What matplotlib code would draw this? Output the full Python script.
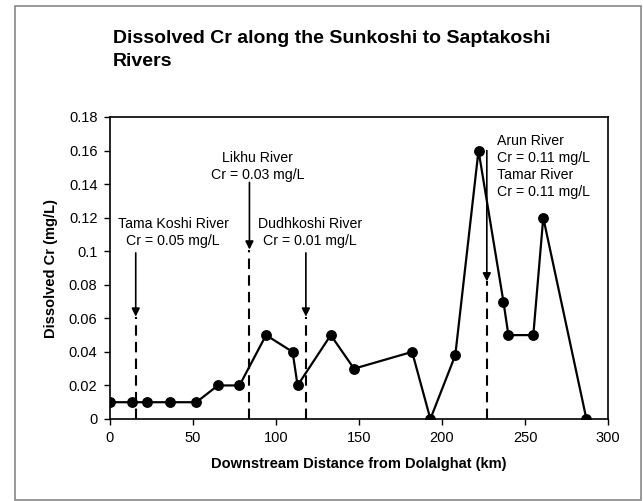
import matplotlib.pyplot as plt
from matplotlib.patches import Rectangle

plt.rcParams['font.family'] = ['Liberation Sans', 'DejaVu Sans']

# sampling points along the river
distance_km = [0, 13, 22, 36, 52, 65, 78, 94, 110, 113, 133, 147,
               182, 193, 208, 222, 237, 240, 255, 261, 287]
cr_mgl = [0.01, 0.01, 0.01, 0.01, 0.01, 0.02, 0.02, 0.05, 0.04, 0.02, 0.05, 0.03,
          0.04, 0.0, 0.038, 0.16, 0.07, 0.05, 0.05, 0.12, 0.0]

# tributary confluences
trib_labels = ['Tama Koshi River\nCr = 0.05 mg/L',
               'Likhu River\nCr = 0.03 mg/L',
               'Dudhkoshi River\nCr = 0.01 mg/L',
               'Arun River\nCr = 0.11 mg/L\nTamar River\nCr = 0.11 mg/L']
trib_km = [15.5, 84, 118, 227]
arrow_top = [0.099, 0.141, 0.099, 0.160]
arrow_tip = [0.061, 0.101, 0.061, 0.082]
label_x = [38, 89, 120.5, 233]
label_y = [0.1205, 0.1597, 0.1205, 0.170]
label_ha = ['center', 'center', 'center', 'left']

fig = plt.figure(figsize=(6.43, 5.01), dpi=100)
fig.patches.append(Rectangle((15 / 643, 1 / 501), 626 / 643, 494 / 501,
                             transform=fig.transFigure, fill=False,
                             edgecolor='#888888', linewidth=1.2))

ax = fig.add_axes([110 / 643, 1 - 419 / 501, 498 / 643, 302 / 501])

ax.plot(distance_km, cr_mgl, color='black', linewidth=1.6,
        marker='o', markersize=6.8, zorder=3)

for name, xk, top, tip, lx, ly, ha in zip(trib_labels, trib_km, arrow_top,
                                          arrow_tip, label_x, label_y, label_ha):
    ax.plot([xk, xk], [0, tip], color='black', linewidth=1.5,
            linestyle=(0, (5, 3)), zorder=2)
    ax.annotate('', xy=(xk, tip), xytext=(xk, top),
                arrowprops=dict(arrowstyle='-|>', color='black', lw=1.2,
                                mutation_scale=12, shrinkA=0, shrinkB=0))
    ax.text(lx, ly, name, ha=ha, va='top', fontsize=10.2, linespacing=1.28)

ax.set_xlim(0, 300)
ax.set_ylim(0, 0.18)
ax.set_xticks(range(0, 301, 50))
ax.set_yticks([0, 0.02, 0.04, 0.06, 0.08, 0.1, 0.12, 0.14, 0.16, 0.18])
ax.set_yticklabels(['0', '0.02', '0.04', '0.06', '0.08', '0.1', '0.12',
                    '0.14', '0.16', '0.18'])
ax.tick_params(direction='out', length=4, width=1, labelsize=10.5, pad=5)
for sp in ax.spines.values():
    sp.set_linewidth(1.2)

ax.set_xlabel('Downstream Distance from Dolalghat (km)', fontsize=10.5,
              fontweight='bold', labelpad=8)
ax.set_ylabel('Dissolved Cr (mg/L)', fontsize=10.5, fontweight='bold',
              labelpad=8)

fig.text(113 / 643, 1 - 30 / 501,
         'Dissolved Cr along the Sunkoshi to Saptakoshi\nRivers',
         ha='left', va='top', fontsize=14, fontweight='bold', linespacing=1.45)

plt.savefig('out.png', dpi=100)
